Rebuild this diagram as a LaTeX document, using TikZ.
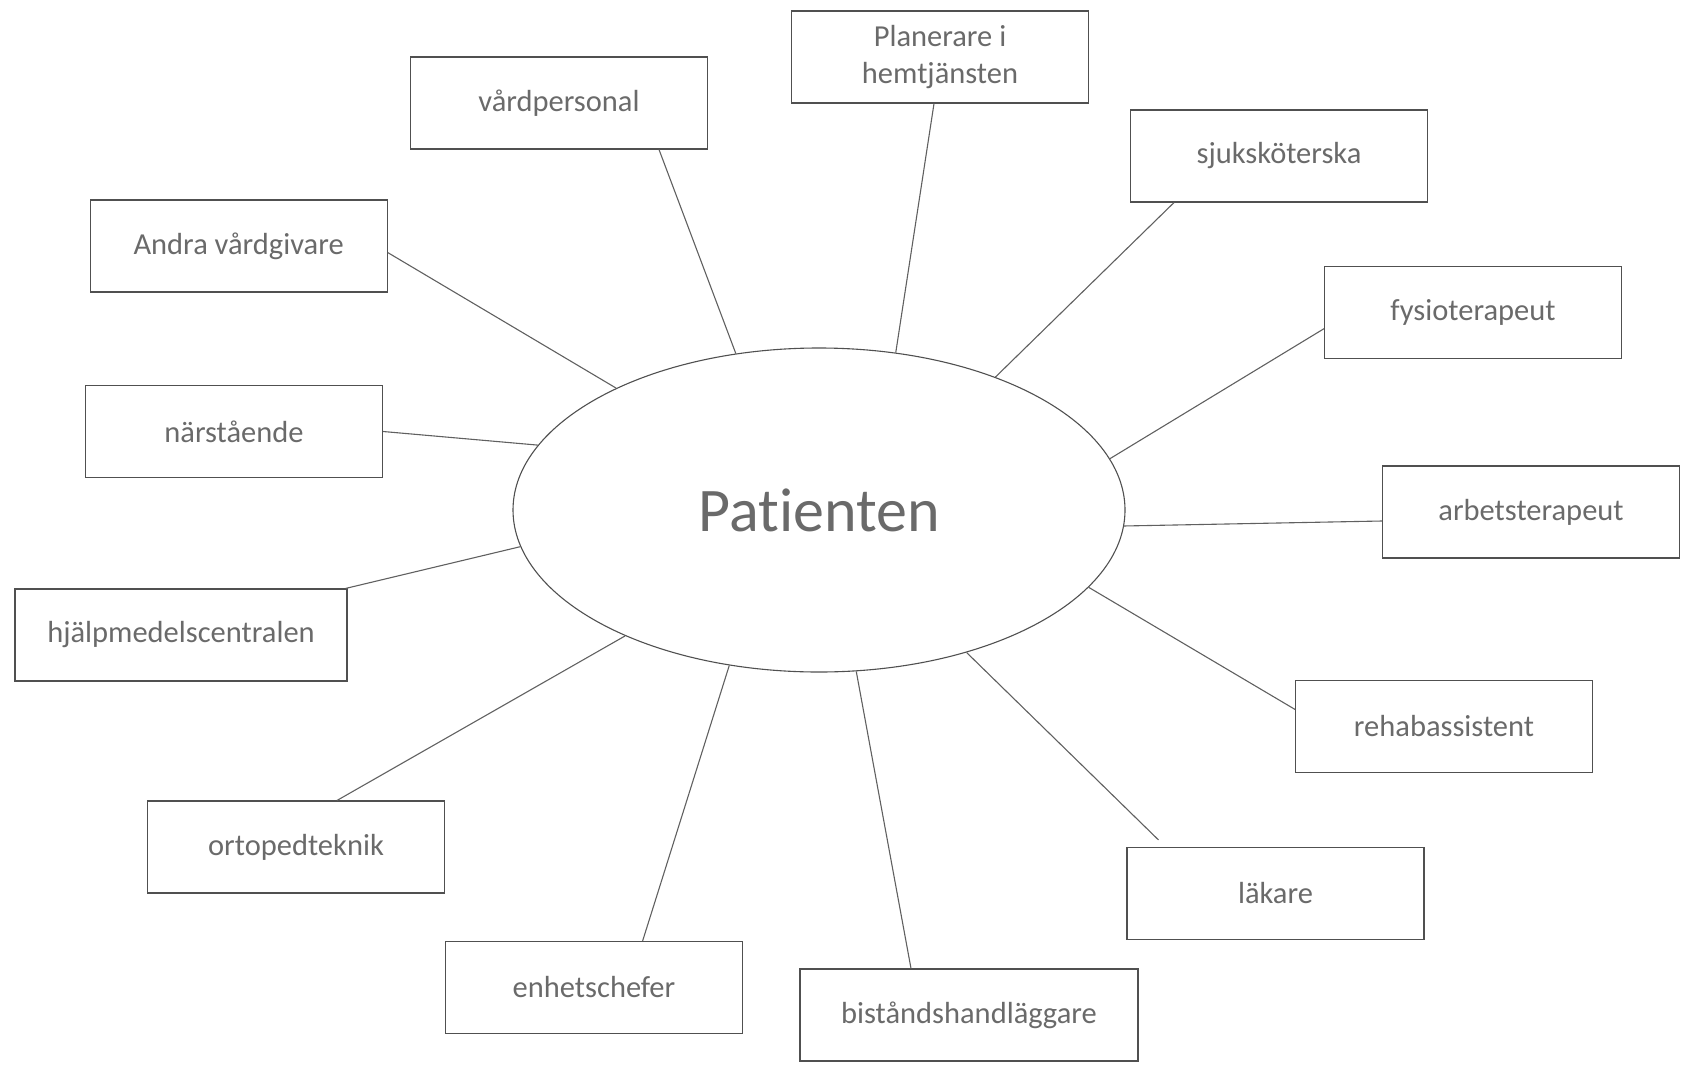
\documentclass[tikz,border=0pt]{standalone}
\usepackage{fontspec}
\setmainfont[Ligatures=NoCommon]{Carlito}
\usetikzlibrary{shapes.geometric}
\definecolor{txt}{HTML}{6A6A6A}
\definecolor{brd}{HTML}{505050}
\definecolor{lin}{HTML}{606060}
\begin{document}
\begin{tikzpicture}[x=1pt,y=-1pt,
  box/.style={draw=brd,line width=1.1pt,rectangle,minimum width=297pt,minimum height=92pt,inner sep=0pt,
    font=\fontsize{30.5}{37}\selectfont,text=txt,align=center},
  conn/.style={draw=lin,line width=1.1pt}]
\useasboundingbox (0,0) rectangle (1685,1065);
\node[draw=brd,line width=1.1pt,ellipse,minimum width=612pt,minimum height=324pt,inner sep=0pt,
  font=\fontsize{62}{72}\selectfont,text=txt] (P) at (819,510) {Patienten};
\node[box] (pl) at (940,57) {Planerare i\\hemtjänsten};
\node[box] (vp) at (559,103) {vårdpersonal};
\node[box] (sj) at (1279,156) {sjuksköterska};
\node[box] (an) at (238.6,246) {Andra vårdgivare};
\node[box] (fy) at (1473,312.7) {fysioterapeut};
\node[box] (na) at (234,431.5) {närstående};
\node[box] (ar) at (1531,512) {arbetsterapeut};
\node[box,minimum width=332pt] (hj) at (181,635) {hjälpmedelscentralen};
\node[box] (re) at (1444,726.4) {rehabassistent};
\node[box] (or) at (296,847) {ortopedteknik};
\node[box] (la) at (1275.5,893.5) {läkare};
\node[box] (en) at (594,987.5) {enhetschefer};
\node[box,minimum width=338pt] (bi) at (969,1015) {biståndshandläggare};
\draw[conn] ([xshift=100pt]vp.south) -- (P.118.6);
\draw[conn] ([xshift=-6pt]pl.south) -- (P.64.5);
\draw[conn] ([xshift=-105pt]sj.south) -- (P.37.9);
\draw[conn] ([yshift=-6.5pt]an.east) -- (P.149.3);
\draw[conn] ([yshift=-16pt]fy.west) -- (P.10.7);
\draw[conn] (na.east) -- (P.167.2);
\draw[conn] ([yshift=-9pt]ar.west) -- (P.-3.3);
\draw[conn] ([xshift=-2pt]hj.north east) -- (P.187.2);
\draw[conn] ([yshift=17pt]re.west) -- (P.-16.9);
\draw[conn] ([xshift=41pt]or.north) -- (P.213);
\draw[conn] ([xshift=-117pt,yshift=7pt]la.north) -- (P.-44.8);
\draw[conn] ([xshift=48.6pt]en.north) -- (P.240.3);
\draw[conn] ([xshift=-58pt]bi.north) -- (P.-77.5);
\end{tikzpicture}
\end{document}
